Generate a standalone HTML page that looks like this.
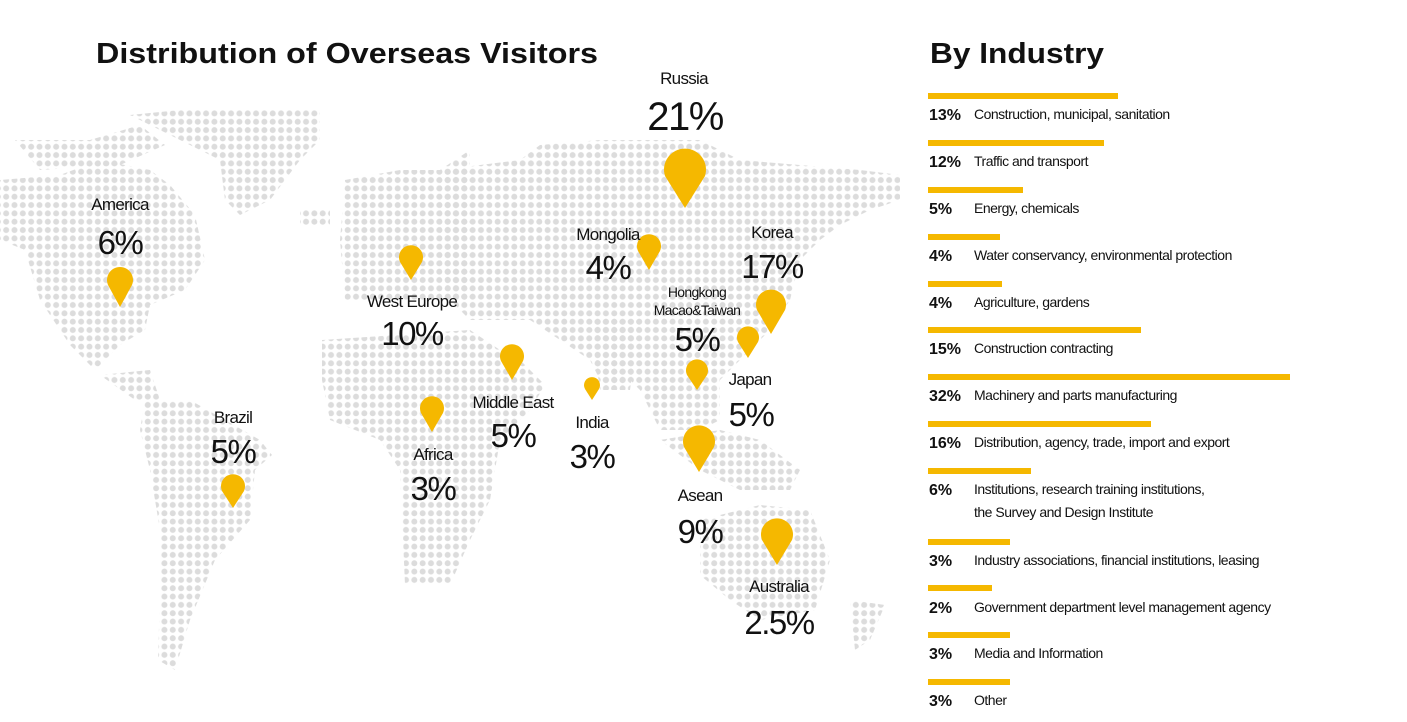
<!DOCTYPE html>
<html><head><meta charset="utf-8"><style>
html,body{margin:0;padding:0;background:#fff;width:1407px;height:722px;overflow:hidden}
svg{display:block}
text{font-family:"Liberation Sans",sans-serif;fill:#111}
.n{font-size:17px;text-anchor:middle;letter-spacing:-0.7px}
.p{font-size:33px;text-anchor:middle;letter-spacing:-1.5px}
.bp{font-size:16px;font-weight:bold}
.bl{font-size:14px;letter-spacing:-0.5px}
</style></head><body>
<svg width="1407" height="722" viewBox="0 0 1407 722">
<defs>
<pattern id="d" x="2" y="1" width="8.33" height="8.33" patternUnits="userSpaceOnUse">
<circle cx="4.16" cy="4.16" r="3" fill="#dcdcdc"/>
</pattern>
</defs>
<g fill="url(#d)">
<!-- North America -->
<polygon points="0,180 60,175 100,160 150,170 170,185 195,215 205,260 185,290 150,305 145,330 120,345 95,370 70,345 40,300 25,250 0,240"/>
<polygon points="15,140 90,140 140,125 165,145 120,165 40,170"/>
<polygon points="130,115 180,110 320,110 320,140 300,160 270,200 240,215 225,200 220,160 180,140"/>
<polygon points="100,375 150,370 160,400 135,400"/>
<!-- South America -->
<polygon points="145,400 190,400 260,440 272,455 255,470 250,520 215,560 190,620 175,670 158,660 160,590 160,530 150,470 140,430"/>
<!-- Europe -->
<polygon points="345,180 400,170 440,170 470,150 470,300 430,300 345,300 340,240"/>
<!-- Africa -->
<polygon points="322,340 470,330 500,350 520,360 545,385 530,410 500,440 490,500 470,540 450,585 405,585 400,470 380,440 330,420 322,380"/>
<!-- Asia -->
<polygon points="440,170 520,160 540,145 600,140 700,140 740,160 800,165 860,170 900,175 900,200 870,210 840,225 820,240 800,260 790,300 770,330 740,360 720,380 720,420 700,430 660,430 640,390 630,380 610,390 600,380 590,360 560,340 530,320 470,320 450,300 440,260"/>
<polygon points="590,320 640,320 630,390 600,390"/>
<!-- Islands -->
<polygon points="660,440 720,430 760,440 800,470 790,490 740,490 700,470"/>
<!-- Australia -->
<polygon points="700,520 760,505 810,510 830,560 815,610 760,620 730,600 700,575"/>
<polygon points="850,600 885,605 870,640 855,650"/>
<polygon points="300,210 330,210 330,225 300,225"/>
</g>
<text x="96" y="63" textLength="502" lengthAdjust="spacingAndGlyphs" style="font-size:29px;font-weight:bold">Distribution of Overseas Visitors</text>
<text x="930" y="63" textLength="174" lengthAdjust="spacingAndGlyphs" style="font-size:29px;font-weight:bold">By Industry</text>
<g fill="#f5b800">
<path d="M685,208 L665,176 A21,21 0 1 1 705,176 Z"/>
<path d="M120,307 L108,285 A13,13 0 1 1 132,285 Z"/>
<path d="M411,280 L400,262 A12,12 0 1 1 422,262 Z"/>
<path d="M649,270 L638,251 A12,12 0 1 1 660,251 Z"/>
<path d="M771,334 L757,310 A15,15 0 1 1 785,310 Z"/>
<path d="M748,358 L738,342 A11,11 0 1 1 758,342 Z"/>
<path d="M697,390 L687,375 A11,11 0 1 1 707,375 Z"/>
<path d="M512,380 L501,361 A12,12 0 1 1 523,361 Z"/>
<path d="M592,400 L585,389 A8,8 0 1 1 599,389 Z"/>
<path d="M432,432 L421,413 A12,12 0 1 1 443,413 Z"/>
<path d="M233,508 L222,491 A12,12 0 1 1 244,491 Z"/>
<path d="M699,472 L684,447 A16,16 0 1 1 714,447 Z"/>
<path d="M777,565 L762,540 A16,16 0 1 1 792,540 Z"/>
</g>
<text class="n" x="684" y="84">Russia</text><text class="p" x="685" y="130" style="font-size:40px">21%</text>
<text class="n" x="120" y="210">America</text><text class="p" x="120" y="254">6%</text>
<text class="n" x="412" y="307">West Europe</text><text class="p" x="412" y="345">10%</text>
<text class="n" x="608" y="240">Mongolia</text><text class="p" x="608" y="279">4%</text>
<text class="n" x="772" y="238">Korea</text><text class="p" x="772" y="278">17%</text>
<text class="n" x="697" y="297" style="font-size:14px">Hongkong</text>
<text class="n" x="697" y="315" style="font-size:14px">Macao&amp;Taiwan</text>
<text class="p" x="697" y="351">5%</text>
<text class="n" x="750" y="385">Japan</text><text class="p" x="751" y="426">5%</text>
<text class="n" x="513" y="408">Middle East</text><text class="p" x="513" y="447">5%</text>
<text class="n" x="592" y="428">India</text><text class="p" x="592" y="468">3%</text>
<text class="n" x="433" y="460">Africa</text><text class="p" x="433" y="500">3%</text>
<text class="n" x="233" y="423">Brazil</text><text class="p" x="233" y="463">5%</text>
<text class="n" x="700" y="501">Asean</text><text class="p" x="700" y="543">9%</text>
<text class="n" x="779" y="592">Australia</text><text class="p" x="779" y="634">2.5%</text>
<g fill="#f5b800">
<rect x="928" y="93" width="190" height="6"/>
<rect x="928" y="140" width="176" height="6"/>
<rect x="928" y="187" width="95" height="6"/>
<rect x="928" y="234" width="72" height="6"/>
<rect x="928" y="281" width="74" height="6"/>
<rect x="928" y="327" width="213" height="6"/>
<rect x="928" y="374" width="362" height="6"/>
<rect x="928" y="421" width="223" height="6"/>
<rect x="928" y="468" width="103" height="6"/>
<rect x="928" y="539" width="82" height="6"/>
<rect x="928" y="585" width="64" height="6"/>
<rect x="928" y="632" width="82" height="6"/>
<rect x="928" y="679" width="82" height="6"/>
</g>
<g>
<text class="bp" x="929" y="120">13%</text><text class="bl" x="974" y="119">Construction, municipal, sanitation</text>
<text class="bp" x="929" y="167">12%</text><text class="bl" x="974" y="166">Traffic and transport</text>
<text class="bp" x="929" y="214">5%</text><text class="bl" x="974" y="213">Energy, chemicals</text>
<text class="bp" x="929" y="261">4%</text><text class="bl" x="974" y="260">Water conservancy, environmental protection</text>
<text class="bp" x="929" y="308">4%</text><text class="bl" x="974" y="307">Agriculture, gardens</text>
<text class="bp" x="929" y="354">15%</text><text class="bl" x="974" y="353">Construction contracting</text>
<text class="bp" x="929" y="401">32%</text><text class="bl" x="974" y="400">Machinery and parts manufacturing</text>
<text class="bp" x="929" y="448">16%</text><text class="bl" x="974" y="447">Distribution, agency, trade, import and export</text>
<text class="bp" x="929" y="495">6%</text><text class="bl" x="974" y="494">Institutions, research training institutions,</text>
<text class="bl" x="974" y="517">the Survey and Design Institute</text>
<text class="bp" x="929" y="566">3%</text><text class="bl" x="974" y="565">Industry associations, financial institutions, leasing</text>
<text class="bp" x="929" y="613">2%</text><text class="bl" x="974" y="612">Government department level management agency</text>
<text class="bp" x="929" y="659">3%</text><text class="bl" x="974" y="658">Media and Information</text>
<text class="bp" x="929" y="706">3%</text><text class="bl" x="974" y="705">Other</text>
</g>
</svg>
</body></html>
